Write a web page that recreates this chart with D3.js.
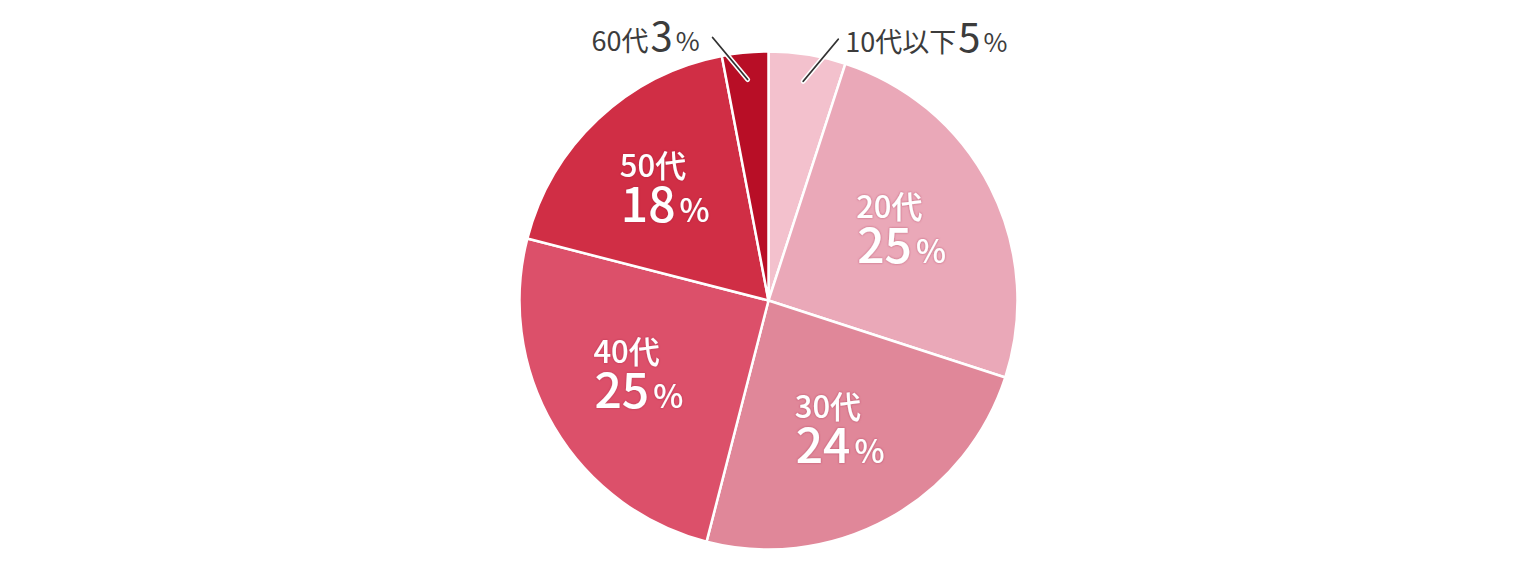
<!DOCTYPE html>
<html>
<head>
<meta charset="utf-8">
<script src="https://cdn.jsdelivr.net/npm/d3@7"></script>
<style>
  html, body { margin: 0; padding: 0; background: #fff; }
  svg { display: block; font-family: "Noto Sans CJK JP", "Noto Sans", sans-serif; }
</style>
</head>
<body>
<div id="chart-container"></div>
<script>
// Age groups and their shares (%)
const categories = ['10代以下', '20代', '30代', '40代', '50代', '60代'];
const values = [5, 25, 24, 25, 18, 3];
const colors = ['#f3c1cd', '#eaa8b8', '#e08799', '#dc506a', '#d02e45', '#b80e26'];
// labels drawn outside with a leader line
const outside = ['10代以下', '60代'];

const width = 1540;
const height = 564;
const cx = 768.5, cy = 300.5, radius = 249;

const svg = d3.select('#chart-container')
    .append('svg')
    .attr('width', width)
    .attr('height', height);

// soft glow behind the white labels
const defs = svg.append('defs');
defs.append('filter')
    .attr('id', 'glow')
    .attr('x', '-20%').attr('y', '-20%')
    .attr('width', '140%').attr('height', '140%')
    .append('feDropShadow')
    .attr('dx', 0).attr('dy', 0)
    .attr('stdDeviation', 1.2)
    .attr('flood-color', '#9a2040')
    .attr('flood-opacity', 0.55);

const g = svg.append('g')
    .attr('transform', `translate(${cx},${cy})`);

const pie = d3.pie().sort(null).value(d => d);
const arcs = pie(values);

const arc = d3.arc().innerRadius(0).outerRadius(radius);
const labelArc = d3.arc().innerRadius(150).outerRadius(150);
const leaderArc = d3.arc().innerRadius(222).outerRadius(222);

// slices
g.selectAll('.slice')
    .data(arcs)
    .enter()
    .append('path')
    .attr('class', 'slice')
    .attr('d', arc)
    .attr('fill', (d, i) => colors[i])
    .attr('stroke', '#fff')
    .attr('stroke-width', 2.5)
    .attr('stroke-linejoin', 'round');

// inside labels (two lines in one text element)
arcs.forEach((d, i) => {
    const name = categories[i];
    if (outside.includes(name)) return;
    const [x, y] = labelArc.centroid(d);
    const t = g.append('text')
        .attr('x', x - 46)
        .attr('y', y - 14)
        .attr('fill', '#fff')
        .attr('font-weight', 500)
        .attr('filter', 'url(#glow)');
    t.append('tspan').attr('font-size', 31).text(name);
    t.append('tspan').attr('x', x - 45).attr('dy', 45).attr('font-size', 48).text(values[i]);
    t.append('tspan').attr('font-size', 32).attr('dx', 4).text('%');
});

// outside labels with leader lines
arcs.forEach((d, i) => {
    const name = categories[i];
    if (!outside.includes(name)) return;
    const [x0, y0] = leaderArc.centroid(d);
    const right = x0 > 0;
    const x1 = x0 + (right ? 35 : -35);
    const y1 = y0 - 42;

    g.append('line')
        .attr('x1', x0).attr('y1', y0).attr('x2', x1).attr('y2', y1)
        .attr('stroke', '#fff').attr('stroke-width', 5)
        .attr('stroke-linecap', 'round');
    g.append('line')
        .attr('x1', x0).attr('y1', y0).attr('x2', x1).attr('y2', y1)
        .attr('stroke', '#333').attr('stroke-width', 1.8)
        .attr('stroke-linecap', 'round');

    const t = g.append('text')
        .attr('x', right ? x1 + 7 : x1 - 13)
        .attr('y', y1 + 13)
        .attr('text-anchor', right ? 'start' : 'end')
        .attr('fill', '#3c3c3c');
    t.append('tspan').attr('font-size', 27).text(name);
    t.append('tspan').attr('font-size', 40).attr('dx', 2).text(values[i]);
    t.append('tspan').attr('font-size', 26).attr('dx', 3).text('%');
});
</script>
</body>
</html>
